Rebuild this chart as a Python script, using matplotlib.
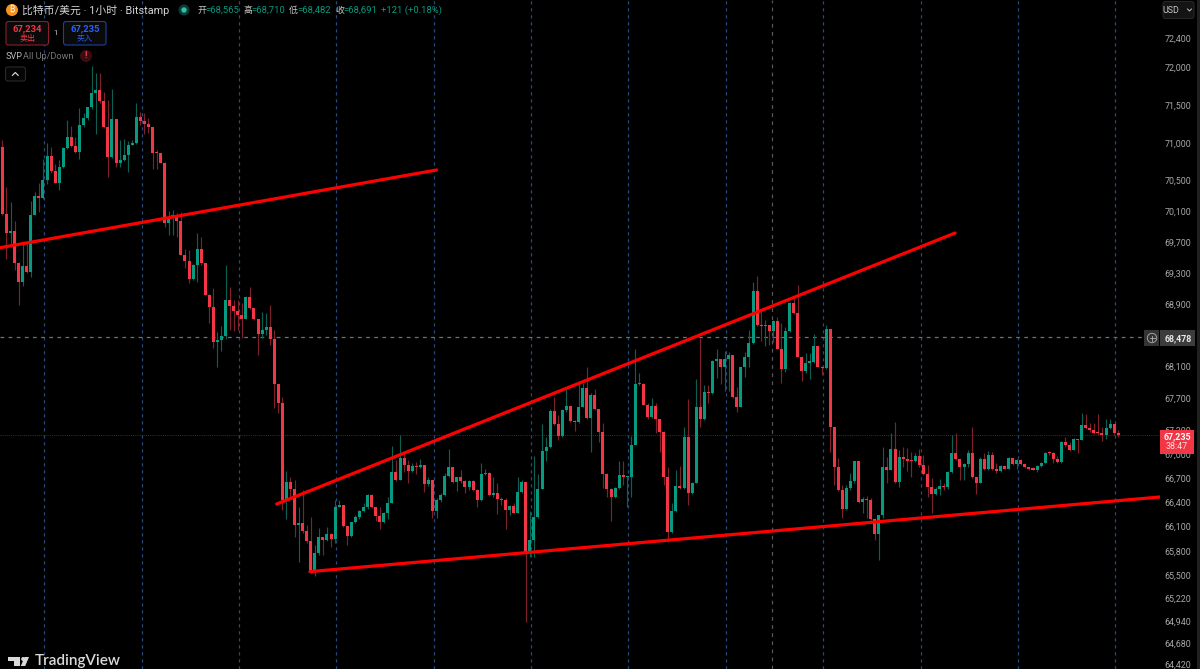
import matplotlib
matplotlib.use('Agg')
import matplotlib.pyplot as plt
from matplotlib.patches import Circle, FancyBboxPatch, Polygon, Rectangle

# hourly candles, open of each candle is the previous close
first_open = 70940
closes = [
    70063, 69820, 69846, 69431, 69181, 69388, 69310, 70046, 70298, 70272,
    70509, 70825, 70632, 70474, 70684, 70931, 71072, 70957, 70878, 71231,
    71329, 71471, 71657, 71702, 71550, 71205, 70807, 71311, 70737, 70772,
    70834, 70975, 70993, 71347, 71293, 71249, 71213, 70869, 70860, 70737,
    69950, 70030, 70040, 69968, 69525, 69448, 69224, 69405, 69611, 69422,
    69018, 68864, 68411, 68437, 68488, 68949, 68872, 68812, 68761, 68701,
    68983, 68846, 68701, 68514, 68565, 68599, 68454, 67879, 67634, 66426,
    66650, 66567, 66114, 66139, 66048, 65917, 65545, 65769, 65966, 65933,
    66007, 65950, 66336, 66364, 66106, 65983, 66155, 66212, 66286, 66336,
    66492, 66336, 66229, 66155, 66270, 66393, 66775, 66675, 66948, 66858,
    66783, 66849, 66833, 66858, 66625, 66675, 66295, 66426, 66492, 66725,
    66833, 66650, 66708, 66658, 66584, 66658, 66550, 66426, 66750, 66767,
    66492, 66509, 66443, 66426, 66303, 66352, 66270, 66526, 66650, 65769,
    65933, 66213, 66563, 67040, 67082, 67542, 67374, 67224, 67550, 67600,
    67408, 67400, 67592, 67828, 67450, 67744, 67559, 67274, 66750, 66567,
    66459, 66575, 66741, 66708, 66716, 67107, 67877, 67882, 67617, 67458,
    67600, 67433, 67274, 66708, 66032, 66285, 66600, 66571, 67207, 66518,
    66642, 67584, 67433, 67777, 67760, 68174, 68199, 68090, 68199, 68241,
    67710, 67584, 68090, 68216, 68394, 69061, 68629, 68615, 68625, 68548,
    68685, 68326, 68073, 68557, 68906, 68778, 68225, 68047, 68149, 68157,
    68360, 68098, 68081, 68582, 67332, 66832, 66551, 66319, 66576, 66659,
    66908, 66401, 66434, 66426, 66196, 66007, 66237, 66841, 66800, 67065,
    66650, 66957, 66940, 66916, 66912, 66973, 66866, 66750, 66592, 66501,
    66567, 66600, 66583, 66774, 67015, 66932, 66832, 66874, 67015, 66708,
    66642, 66940, 66807, 66990, 66807, 66782, 66849, 66815, 66948, 66874,
    66924, 66874, 66832, 66807, 66803, 66849, 66890, 67015, 67007, 66940,
    66899, 67148, 67106, 67048, 67181, 67173, 67357, 67324, 67299, 67265,
    67257, 67240, 67324, 67374, 67265, 67235,
]
highs = [
    71037, 70421, 70220, 69968, 69439, 69689, 69698, 70237, 70351, 70465,
    70790, 70992, 70939, 70720, 70772, 70940, 71302, 71222, 71081, 71462,
    71391, 71479, 72023, 71925, 71925, 71675, 71568, 71710, 71311, 71037,
    71055, 71019, 71037, 71533, 71408, 71400, 71329, 71213, 70904, 70869,
    70750, 70107, 70115, 70072, 70089, 69603, 69594, 69413, 69820, 69768,
    69431, 69026, 69100, 68544, 68616, 69400, 69121, 68949, 68949, 68906,
    69000, 69112, 68846, 68710, 68795, 68778, 68880, 68565, 67879, 67718,
    66783, 66716, 66675, 66344, 66551, 66118, 66212, 65872, 66077, 65966,
    66097, 66015, 66426, 66426, 66368, 66106, 66160, 66241, 66303, 66385,
    66501, 66501, 66336, 66336, 66282, 66468, 67098, 66924, 67232, 67015,
    66924, 66882, 66903, 66932, 66858, 66716, 66675, 66447, 66517, 66758,
    67056, 66841, 66716, 66800, 66675, 66675, 66675, 66559, 66891, 66808,
    66779, 66708, 66634, 66467, 66447, 66364, 66385, 66708, 66675, 66650,
    66295, 66974, 66750, 67374, 67216, 67559, 67710, 67488, 67559, 67836,
    67600, 67425, 67895, 67887, 68090, 67760, 67819, 67559, 67391, 66758,
    66575, 66584, 66916, 66916, 66725, 67224, 68326, 68020, 67890, 67634,
    67697, 67634, 67433, 67291, 66841, 66385, 66800, 66849, 67341, 67684,
    66650, 67937, 68458, 67861, 67865, 68182, 68326, 68199, 68300, 68283,
    68241, 67836, 68098, 68288, 68565, 69181, 69259, 68821, 68693, 68616,
    68693, 68736, 68650, 68608, 68923, 68975, 69147, 68233, 68267, 68267,
    68514, 68352, 68106, 68629, 68582, 67332, 66944, 66613, 66613, 66759,
    66916, 66908, 66468, 66476, 66451, 66200, 66237, 67090, 66965, 67258,
    67404, 67048, 67082, 67069, 67024, 67006, 67056, 66986, 66861, 66696,
    66592, 66683, 66633, 66782, 67232, 67265, 66932, 66882, 67048, 67341,
    66708, 66965, 67006, 67040, 67023, 66882, 66857, 66849, 66957, 66948,
    66932, 66940, 66882, 66840, 66840, 66857, 66903, 67027, 67031, 67023,
    66973, 67156, 67206, 67148, 67193, 67190, 67508, 67500, 67383, 67383,
    67500, 67332, 67441, 67441, 67374, 67299,
]
lows = [
    70050, 69474, 69637, 69336, 68885, 69130, 69293, 69250, 70046, 70089,
    70263, 70456, 70605, 70474, 70377, 70670, 70912, 70948, 70869, 70781,
    71213, 71302, 71453, 71116, 71533, 71196, 70553, 70798, 70684, 70676,
    70755, 70619, 70966, 70984, 71236, 71116, 71125, 70649, 70649, 70728,
    69898, 69794, 69785, 69768, 69525, 69362, 69164, 69207, 69185, 69405,
    69009, 68650, 68335, 68098, 68300, 68454, 68565, 68556, 68565, 68458,
    68701, 68829, 68693, 68246, 68458, 68501, 68373, 67571, 67508, 66303,
    66188, 66468, 65966, 65668, 66015, 65892, 65525, 65492, 65749, 65749,
    65925, 65851, 65900, 66336, 66089, 65872, 65974, 66139, 66196, 66282,
    66320, 66328, 66171, 66073, 66147, 66188, 66385, 66667, 66675, 66779,
    66642, 66775, 66750, 66825, 66530, 66600, 66200, 66200, 66405, 66476,
    66708, 66642, 66534, 66634, 66509, 66550, 66542, 66336, 66418, 66733,
    66476, 66468, 66253, 66364, 66068, 66241, 66262, 66262, 66518, 64930,
    65729, 65729, 66205, 66567, 66916, 67073, 67366, 67174, 67207, 67525,
    67400, 67291, 67392, 67592, 67442, 67027, 67550, 67153, 66571, 66467,
    66172, 66451, 66559, 66613, 66344, 66467, 67132, 67870, 67609, 67442,
    67450, 67266, 67027, 66613, 65913, 66016, 66278, 66559, 66559, 66368,
    66501, 66633, 67332, 67425, 67634, 67752, 67950, 67878, 67794, 67794,
    67697, 67530, 67584, 67963, 68090, 68386, 68620, 68428, 68360, 68373,
    68416, 68317, 67895, 68035, 68544, 68770, 68216, 67920, 68014, 67946,
    68149, 68090, 67988, 68073, 67027, 66613, 66543, 66200, 66303, 66551,
    66642, 66393, 66262, 66200, 66180, 65933, 65687, 66200, 66634, 66800,
    66642, 66584, 66841, 66792, 66709, 66900, 66841, 66738, 66468, 66270,
    66488, 66488, 66550, 66558, 66766, 66924, 66674, 66674, 66840, 66700,
    66497, 66634, 66799, 66799, 66799, 66758, 66774, 66807, 66807, 66866,
    66807, 66866, 66824, 66799, 66795, 66774, 66832, 66882, 66986, 66890,
    66890, 66890, 67090, 67040, 67048, 67007, 67173, 67307, 67278, 67248,
    67240, 67165, 67190, 67307, 67240, 67215,
]

# hand drawn trend lines: (candle index, price) pairs
line_upper_left = ([-0.6, 107.0], [69624, 70640])
line_wedge_top = ([67.6, 234.8], [66376, 69815])
line_wedge_bottom = ([75.8, 285.3], [65545, 66463])

price_ticks = [72400, 72000, 71500, 71000, 70500, 70100, 69700, 69300, 68900,
               68100, 67700, 67300, 67000, 66700, 66400, 66100, 65800, 65500,
               65220, 64940, 64680, 64420]
session_ticks = [10.3, 34.3, 58.3, 82.3, 106.3, 130.3, 154.3, 178.3, 202.3, 226.3, 250.3, 274.3]

crosshair_price = 68478
crosshair_candle = 189.6
last_price = 67235

LATIN_CJK = ['Roboto', 'Noto Sans CJK SC', 'DejaVu Sans']
plt.rcParams['font.family'] = ['Noto Sans CJK SC', 'DejaVu Sans']

GREEN = '#089981'
RED = '#f23645'
GREEN_WICK = '#0b5f53'
RED_WICK = '#7d222c'

fig = plt.figure(figsize=(12, 6.69), dpi=100, facecolor='black')
ax = fig.add_axes([0, 0, 1160 / 1200, 1], facecolor='black')

opens = [first_open] + closes[:-1]
xs = list(range(len(closes)))
up = [c >= o for o, c in zip(opens, closes)]

ax.set_yscale('log')
ax.set_xlim(-0.59, 285.3)
ax.set_ylim(64366, 72914)

ax.vlines(xs, lows, highs, colors=[GREEN_WICK if u else RED_WICK for u in up], lw=0.85, zorder=2)
# very small bodies still show as a thin bar
ax.bar(xs, [max(abs(c - o), 16) for o, c in zip(opens, closes)], bottom=[min(o, c) for o, c in zip(opens, closes)],
       width=0.74, color=[GREEN if u else RED for u in up], lw=0, zorder=3)

# reference lines
ax.axhline(crosshair_price, color='#6f7178', lw=0.9, dashes=(3, 3.5), zorder=1)
ax.axvline(crosshair_candle, color='#55575c', lw=0.9, dashes=(3, 3.5), zorder=1)
ax.axhline(last_price, color='#6e1a22', lw=0.7, dashes=(1, 1.2), zorder=1)

for line in [line_upper_left, line_wedge_top, line_wedge_bottom]:
    ax.plot(line[0], line[1], color='#ff0000', lw=2.3, solid_capstyle='round', zorder=5)

ax.set_xticks(session_ticks)
ax.set_xticklabels([])
ax.grid(axis='x', color='#264a80', lw=0.9, dashes=(2.6, 3))
ax.set_axisbelow(True)
ax.tick_params(axis='x', length=0)
ax.yaxis.tick_right()
ax.set_yticks(price_ticks)
ax.set_yticks([], minor=True)
ax.set_yticklabels(['{:,}'.format(p) for p in price_ticks], fontsize=6.4, color='#a8a8a8', ha='right',
                   family='Roboto')
ax.tick_params(axis='y', length=0, pad=22.4)
for spine in ax.spines.values():
    spine.set_visible(False)

# chart furniture, drawn in screen pixels over the chart
ui = fig.add_axes([0, 0, 1, 1], facecolor='none', zorder=10)
ui.set_xlim(0, 1200)
ui.set_ylim(669, 0)
ui.axis('off')


def box(x0, y0, x1, y1, face, edge, r=2.5, lw=0.8):
    ui.add_patch(FancyBboxPatch((x0 + r, y0 + r), x1 - x0 - 2 * r, y1 - y0 - 2 * r,
                                boxstyle='round,pad={},rounding_size={}'.format(r, r),
                                fc=face, ec=edge, lw=lw))


# header
ui.add_patch(Circle((12, 10), 6, fc='#f7931a', ec='none'))
ui.text(12, 10, '₿', fontsize=6, color='white', ha='center', va='center',
        family=['Inter', 'Noto Sans', 'Roboto', 'Open Sans', 'Lato', 'Liberation Sans', 'DejaVu Sans'])
ui.text(22, 10, '比特币/美元 · 1小时 · Bitstamp', fontsize=7.8, color='#d4d4d4', va='center', family=LATIN_CJK)
ui.add_patch(Circle((184, 10), 5.5, fc='#0d3a35', ec='none'))
ui.add_patch(Circle((184, 10), 2.7, fc='#2ebfa5', ec='none'))
ohlc = [(197, '开', '68,565'), (243, '高', '68,710'), (289, '低', '68,482'), (335, '收', '68,691')]
for x, name, val in ohlc:
    ui.text(x, 10.5, name, fontsize=6.4, color='#c8c8c8', va='center')
    ui.text(x + 8.5, 10.5, '=' + val, fontsize=6.8, color=GREEN, va='center', family='Roboto')
ui.text(381, 10.5, '+121 (+0.18%)', fontsize=6.8, color=GREEN, va='center', family='Roboto')

# sell and buy buttons
box(6, 21.5, 48.5, 45, '#0a0a0a', '#8a1f2c')
ui.text(27.5, 28.5, '67,234', fontsize=6.8, color='#f23645', ha='center', va='center', family='Roboto', weight='bold')
ui.text(27.5, 38.5, '卖出', fontsize=5.8, color='#f23645', ha='center', va='center')
ui.text(56, 33, '1', fontsize=5.5, color='#c8c8c8', ha='center', va='center', family='Roboto')
box(63.5, 21.5, 106, 45, '#0a0a0a', '#1f3f9e')
ui.text(85, 28.5, '67,235', fontsize=6.8, color='#2962ff', ha='center', va='center', family='Roboto', weight='bold')
ui.text(85, 38.5, '买入', fontsize=5.8, color='#2962ff', ha='center', va='center')

# indicator row
ui.text(5.5, 56.5, 'SVP', fontsize=6.6, color='#b8b8b8', va='center', family='Roboto')
ui.text(23, 56.5, 'All Up/Down', fontsize=6.6, color='#787878', va='center', family='Roboto')
ui.add_patch(Circle((86, 56), 6, fc='#3d0c10', ec='none'))
ui.text(86, 56, '!', fontsize=6.5, color='#f23645', ha='center', va='center', family='Roboto', weight='bold')
box(5.5, 67, 25.5, 81, '#050505', '#2a2a2a')
ui.plot([12.5, 15.3, 18.1], [75.3, 72.5, 75.3], color='#d0d0d0', lw=0.9)

# USD selector
box(1163, 1.5, 1194, 18.5, '#141414', '#262626')
ui.text(1171, 10.5, 'USD', fontsize=6.4, color='#c8c8c8', ha='center', va='center', family='Roboto')
ui.plot([1187.5, 1189.5, 1191.5], [9, 11, 9], color='#c0c0c0', lw=0.7)

# crosshair price tag
ui.add_patch(Rectangle((1144, 330), 15, 16, fc='#343434', ec='none'))
ui.add_patch(Rectangle((1160, 330), 35, 16, fc='#3c3c3c', ec='none'))
ui.add_patch(Circle((1152, 338), 4.7, fc='none', ec='#b0b0b0', lw=0.6))
ui.plot([1149.5, 1154.5], [338, 338], color='#b0b0b0', lw=0.6)
ui.plot([1152, 1152], [335.5, 340.5], color='#b0b0b0', lw=0.6)
ui.text(1178, 338.5, '68,478', fontsize=6.4, color='#e8e8e8', ha='center', va='center', family='Roboto', weight='bold')

# last price tag
ui.add_patch(Rectangle((1160, 430), 34, 23.5, fc=RED, ec='none'))
ui.text(1177, 436.5, '67,235', fontsize=6.4, color='white', ha='center', va='center', family='Roboto', weight='bold')
ui.text(1177, 446.5, '38:47', fontsize=6.4, color='#ffe0e3', ha='center', va='center', family='Roboto')

ui.add_patch(Rectangle((1197, 0), 3, 669, fc='#202020', ec='none'))

# TradingView mark
logo = '#d9d9d9'
ui.add_patch(Polygon([(8, 657), (20, 657), (20, 666), (14, 666), (14, 661), (8, 661)], fc=logo, ec='none'))
ui.add_patch(Circle((23.2, 659), 2, fc=logo, ec='none'))
ui.add_patch(Polygon([(29, 657), (25.2, 666), (20.8, 666), (24.6, 657)], fc=logo, ec='none'))
ui.text(34.5, 661, 'TradingView', fontsize=11, color=logo, va='center', family='Lato', weight='semibold')

fig.savefig('out.png', dpi=100, facecolor='black')
